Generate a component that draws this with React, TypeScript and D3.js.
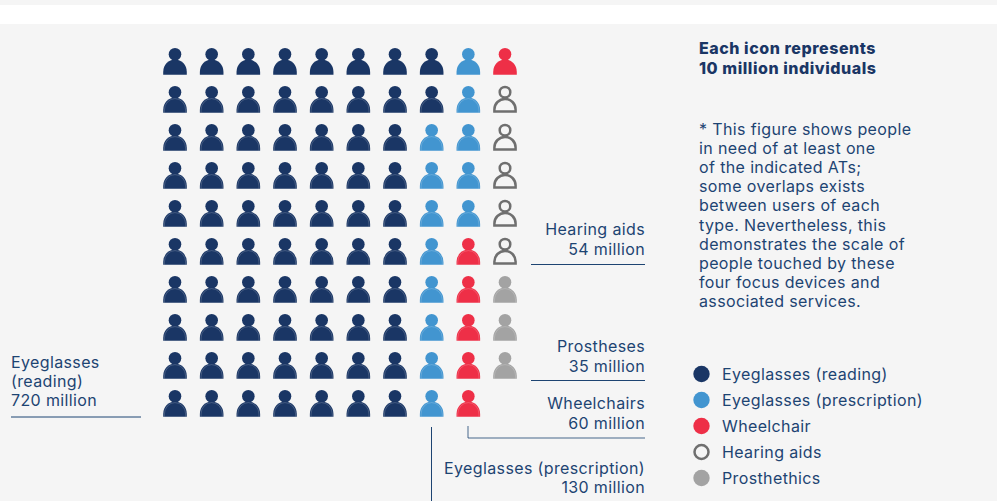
import React from "react";
import { scalePoint, range } from "d3";

const categories = ["Eyeglasses (reading)", "Eyeglasses (prescription)", "Wheelchair", "Hearing aids", "Prosthethics"];
const iconCounts = [72, 13, 6, 5, 3];
const fills = ["#1a3665", "#4295d0", "#ee2f47", "none", "#a3a3a3"];
const strokes = ["none", "none", "none", "#6f6f6f", "none"];
const FONT = "Inter, 'Noto Sans', sans-serif";
const INK = "#1d4472";

const xScale = scalePoint<number>().domain(range(10)).range([175, 505]);
const yScale = scalePoint<number>().domain(range(10)).range([0, 342]);

const sequence: number[] = iconCounts.flatMap((c, i) => range(c).map(() => i));

function Person({ x, y, cat, row }: { x: number; y: number; cat: number; row: number }) {
  const outlined = fills[cat] === "none";
  const sw = outlined ? 2.5 : 0;
  const headR = outlined ? 5.3 : 6.3;
  const body = outlined
    ? "M-10.6,12.6 L-10.6,10.5 A10.6,10.6 0 0 1 10.6,10.5 L10.6,12.6 Z"
    : "M-11.8,13.8 L-11.8,11 A11.8,12.6 0 0 1 11.8,11 L11.8,13.8 Z";
  return (
    <g transform={`translate(${x},${y})`} fill={fills[cat]} stroke={strokes[cat]} strokeWidth={sw}>
      <circle cx={0} cy={-6.8} r={headR} />
      <path d={body} />
      {!outlined && row > 0 && (
        <path d="M-10.6,13.6 L-10.6,11 A10.6,11.4 0 0 1 10.6,11 L10.6,13.6" fill="none" stroke="#ffffff" strokeOpacity={0.3} strokeWidth={0.6} />
      )}
    </g>
  );
}

type Lbl = { x: number; y: number; t: string; anchor?: string; weight?: number };
const labels: Lbl[] = [
  { x: 11, y: 368, t: "Eyeglasses" },
  { x: 11, y: 387, t: "(reading)" },
  { x: 11, y: 406, t: "720 million" },
  { x: 645, y: 235, t: "Hearing aids", anchor: "end" },
  { x: 645, y: 255, t: "54 million", anchor: "end" },
  { x: 645, y: 352, t: "Prostheses", anchor: "end" },
  { x: 645, y: 372, t: "35 million", anchor: "end" },
  { x: 645, y: 409, t: "Wheelchairs", anchor: "end" },
  { x: 645, y: 429, t: "60 million", anchor: "end" },
  { x: 645, y: 474, t: "Eyeglasses (prescription)", anchor: "end" },
  { x: 645, y: 493, t: "130 million", anchor: "end" },
  { x: 699, y: 54, t: "Each icon represents", weight: 800 },
  { x: 699, y: 74, t: "10 million individuals", weight: 800 },
];

const noteLines = [
  "* This figure shows people",
  "in need of at least one",
  "of the indicated ATs;",
  "some overlaps exists",
  "between users of each",
  "type. Nevertheless, this",
  "demonstrates the scale of",
  "people touched by these",
  "four focus devices and",
  "associated services.",
];

const legendY = scalePoint<number>().domain(range(5)).range([374, 478]);

export default function App() {
  return (
    <svg width={997} height={501} style={{ position: "absolute", left: 0, top: 0, background: "#f5f5f5" }} fontFamily={FONT}>
      <rect x={0} y={5} width={997} height={19} fill="#ffffff" />
      <g transform="translate(0,61)">
        {sequence.map((cat, i) => {
          const col = Math.floor(i / 10);
          const row = i % 10;
          return <Person key={i} x={xScale(col)!} y={yScale(row)!} cat={cat} row={row} />;
        })}
      </g>
      {labels.map((l, i) => (
        <text key={i} x={l.x} y={l.y} textAnchor={(l.anchor as any) ?? "start"} fontSize={16} letterSpacing={l.weight ? 0.55 : 0.37} fontWeight={l.weight ?? 400} fill={l.weight ? "#1a3665" : INK}>
          {l.t}
        </text>
      ))}
      {noteLines.map((t, i) => (
        <text key={t} x={699} y={135 + i * 19.1} fontSize={16} letterSpacing={0.37} fill={INK}>{t}</text>
      ))}
      <g fill="none" stroke="#1d4472" strokeWidth={1}>
        <path d="M11,417H141" />
        <path d="M531,264.5H645" />
        <path d="M531,380.5H645" />
        <path d="M468,426V438H645" strokeOpacity={0.8} />
        <path d="M431.5,427V501" />
      </g>
      {categories.map((c, i) => (
        <g key={c} transform={`translate(0,${legendY(i)})`}>
          <circle cx={701.5} cy={0} r={fills[i] === "none" ? 7 : 8.2} fill={fills[i]} stroke={strokes[i]} strokeWidth={fills[i] === "none" ? 2.5 : 0} />
          <text x={722} y={6} fontSize={16} letterSpacing={0.37} fill={INK}>{c}</text>
        </g>
      ))}
    </svg>
  );
}
